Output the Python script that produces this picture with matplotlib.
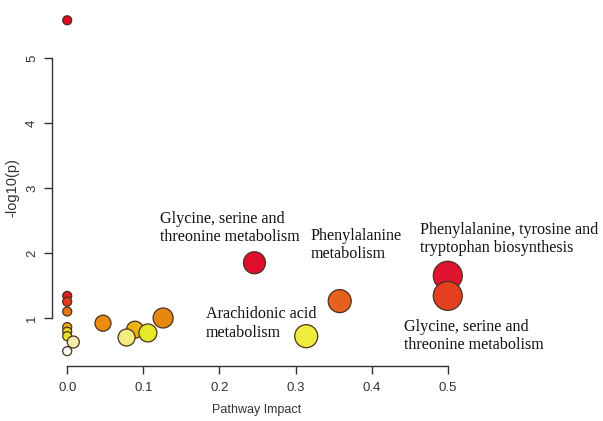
import matplotlib
matplotlib.use("Agg")
import matplotlib.pyplot as plt

# pathway impact vs -log10(p)
impact = [0.0, 0.0, 0.0, 0.0, 0.0, 0.0, 0.0, 0.008, 0.0,
          0.047, 0.089, 0.078, 0.106, 0.126,
          0.246, 0.358, 0.314, 0.50, 0.50]
logp = [5.58, 1.34, 1.25, 1.10, 0.86, 0.79, 0.72, 0.63, 0.49,
        0.92, 0.82, 0.70, 0.77, 1.00,
        1.85, 1.26, 0.72, 1.65, 1.34]
diam_px = [9, 9, 9, 9, 9, 9, 9, 12, 9,
           16, 17, 17, 18, 20,
           22, 23, 23, 29, 29]
colors = ["#DC0A22", "#DE1E22", "#E23A20", "#E4761A", "#EAB020", "#E8D424", "#E4E42E",
          "#F2EEAA", "#FAFAF2",
          "#EA8C12", "#EBB412", "#F0EC82", "#E6E82C", "#E68810",
          "#DE0E2C", "#E6601E", "#EEEC3C", "#DE1430", "#E44020"]

labels = [
    ("Glycine, serine and\nthreonine metabolism", 0.122, 2.385),
    ("Phenylalanine\nmetabolism", 0.320, 2.12),
    ("Phenylalanine, tyrosine and\ntryptophan biosynthesis", 0.464, 2.22),
    ("Arachidonic acid\nmetabolism", 0.182, 0.915),
    ("Glycine, serine and\nthreonine metabolism", 0.442, 0.72),
]

W, H = 603, 421
y_axis_px = 366
fig = plt.figure(figsize=(W / 100, H / 100), dpi=100)
ax = fig.add_axes([52 / W, (H - y_axis_px) / H, (463 - 52) / W, (y_axis_px - 6) / H])

sizes = [(d * 0.72) ** 2 for d in diam_px]
ax.scatter(impact, logp, s=sizes, c=colors, edgecolors="#4a3020",
           linewidths=0.9, zorder=3)

for txt, x, y in labels:
    ax.text(x, y, txt, ha="left", va="center", fontsize=11.6,
            family="Liberation Serif", color="#111111", linespacing=1.2)

ax.set_xlim(-0.02, 0.52)
ax.set_ylim(1 - (y_axis_px - 318) / 65, 1 + (318 - 6) / 65)

for s in ["top", "right"]:
    ax.spines[s].set_visible(False)
ax.spines["left"].set_bounds(1, 5)
ax.spines["bottom"].set_bounds(0, 0.5)
for s in ["left", "bottom"]:
    ax.spines[s].set_color("#333333")
    ax.spines[s].set_linewidth(1.0)

ax.set_xticks([0.0, 0.1, 0.2, 0.3, 0.4, 0.5])
ax.set_xticklabels(["0.0", "0.1", "0.2", "0.3", "0.4", "0.5"])
ax.set_yticks([1, 2, 3, 4, 5])
ax.set_yticklabels(["1", "2", "3", "4", "5"], rotation=90, va="center")
ax.tick_params(axis="both", length=5.5, width=1.0, color="#333333",
               labelsize=9.5, labelcolor="#333333")
ax.tick_params(axis="x", pad=6)
ax.tick_params(axis="y", pad=4.5)
for lab in ax.get_xticklabels() + ax.get_yticklabels():
    lab.set_family("Liberation Sans")

fig.text(257 / W, 1 - 410 / H, "Pathway Impact", ha="center", va="center",
         fontsize=9, family="Liberation Sans", color="#333333")
fig.text(12 / W, 1 - 188 / H, "-log10(p)", ha="center", va="center",
         rotation=90, fontsize=10.5, family="Liberation Sans", color="#333333")

fig.savefig("out.png", dpi=100, facecolor="white")
